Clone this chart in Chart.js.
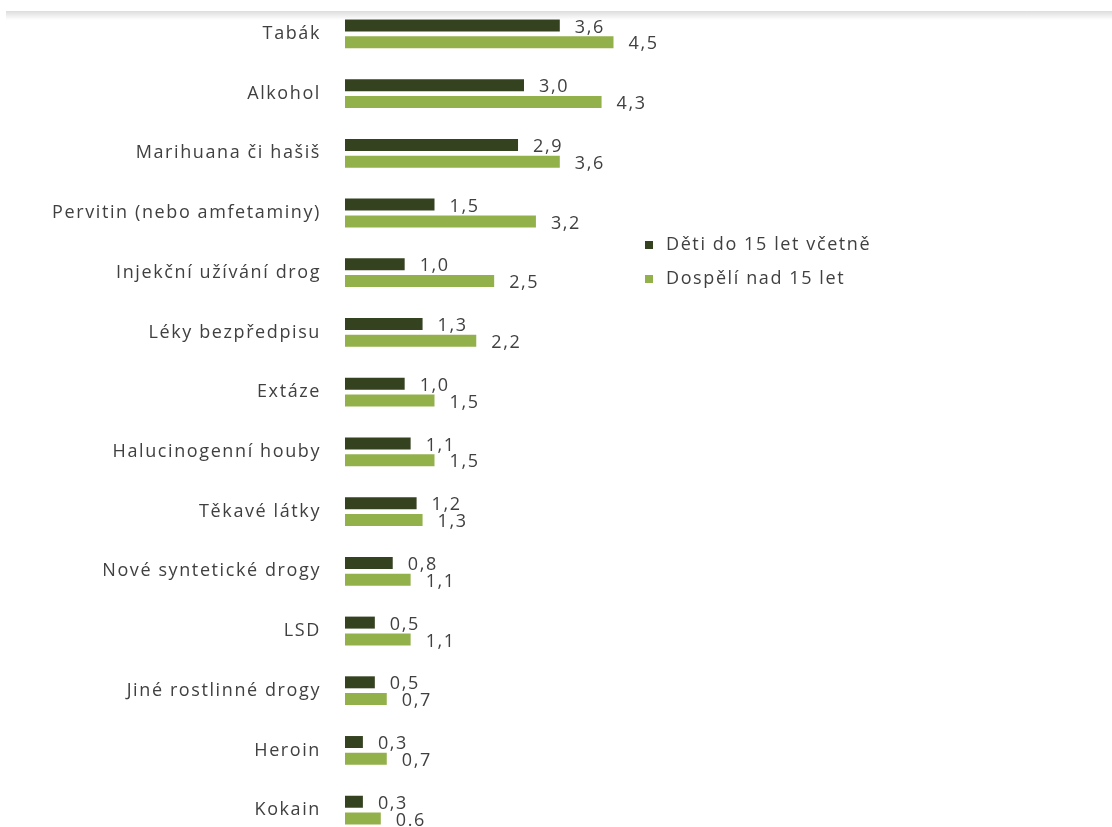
<!DOCTYPE html>
<html lang="cs">
<head>
<meta charset="utf-8">
<title>Užívání návykových látek</title>
<script src="https://cdn.jsdelivr.net/npm/chart.js@4.4.1/dist/chart.umd.min.js"></script>
<style>
  html, body { margin: 0; padding: 0; background: #ffffff; overflow: hidden; }
  #wrap { position: relative; width: 1112px; height: 845px; }
  #topShade {
    position: absolute; left: 6px; right: 0; top: 11px; height: 9px;
    background: linear-gradient(to bottom, rgba(215,215,215,0.85), rgba(255,255,255,0));
    pointer-events: none;
  }
</style>
</head>
<body>
<div id="wrap">
  <canvas id="chart" width="1112" height="845"></canvas>
  <div id="topShade"></div>
</div>
<script>
// Categories (top to bottom)
const categories = [
  'Tabák', 'Alkohol', 'Marihuana či hašiš', 'Pervitin (nebo amfetaminy)',
  'Injekční užívání drog', 'Léky bezpředpisu', 'Extáze', 'Halucinogenní houby',
  'Těkavé látky', 'Nové syntetické drogy', 'LSD', 'Jiné rostlinné drogy',
  'Heroin', 'Kokain'
];

// Series values
const children = [3.6, 3.0, 2.9, 1.5, 1.0, 1.3, 1.0, 1.1, 1.2, 0.8, 0.5, 0.5, 0.3, 0.3];
const adults   = [4.5, 4.3, 3.6, 3.2, 2.5, 2.2, 1.5, 1.5, 1.3, 1.1, 1.1, 0.7, 0.7, 0.6];

const seriesNames = ['Děti do 15 let včetně', 'Dospělí nad 15 let'];

// Value label text, decimal comma
const fmt = v => v.toFixed(1).replace('.', ',');
const childrenText = children.map(fmt);
const adultsText = adults.map(fmt);
adultsText[13] = adults[13].toFixed(1); // printed with a decimal point

const FONT = '"Open Sans", "Noto Sans", sans-serif';
const FONT_SIZE = 18;
const TRACKING = '1.6px';
const TEXT = '#404040';
const DARK = '#344220';
const LIGHT = '#93b14b';

// Wide letter spacing for all text on the canvas
const tracking = {
  id: 'tracking',
  beforeDraw(chart) { chart.ctx.letterSpacing = TRACKING; }
};

// Value labels at the end of each bar
const valueLabels = {
  id: 'valueLabels',
  afterDatasetsDraw(chart) {
    const ctx = chart.ctx;
    const texts = [childrenText, adultsText];
    ctx.save();
    ctx.letterSpacing = TRACKING;
    ctx.font = FONT_SIZE + 'px ' + FONT;
    ctx.fillStyle = TEXT;
    ctx.textAlign = 'left';
    ctx.textBaseline = 'middle';
    chart.data.datasets.forEach((ds, di) => {
      chart.getDatasetMeta(di).data.forEach((bar, i) => {
        ctx.fillText(texts[di][i], bar.x + 15, bar.y + 2);
      });
    });
    ctx.restore();
  }
};

// Legend drawn beside the bars
const sideLegend = {
  id: 'sideLegend',
  afterDraw(chart) {
    const ctx = chart.ctx;
    ctx.save();
    ctx.letterSpacing = TRACKING;
    ctx.font = FONT_SIZE + 'px ' + FONT;
    ctx.textBaseline = 'middle';
    ctx.textAlign = 'left';
    chart.data.datasets.forEach((ds, di) => {
      const cy = 245 + di * 34;
      ctx.fillStyle = ds.backgroundColor;
      ctx.fillRect(645, cy - 4, 8, 8);
      ctx.fillStyle = TEXT;
      ctx.fillText(ds.label, 666, cy);
    });
    ctx.restore();
  }
};

new Chart(document.getElementById('chart'), {
  type: 'bar',
  data: {
    labels: categories,
    datasets: [
      { label: seriesNames[0], data: children, backgroundColor: DARK },
      { label: seriesNames[1], data: adults, backgroundColor: LIGHT }
    ]
  },
  options: {
    indexAxis: 'y',
    responsive: false,
    animation: false,
    layout: { padding: { top: 4, bottom: 5, left: 0, right: 51 } },
    datasets: {
      bar: { categoryPercentage: 0.5626, barPercentage: 0.714, borderWidth: 0 }
    },
    scales: {
      x: { display: false, min: 0, max: 12 },
      y: {
        afterFit(scale) {
          scale.width = 345;
          scale.paddingTop = 0;
          scale.paddingBottom = 0;
        },
        grid: { display: false, drawTicks: false, tickLength: 0 },
        border: { display: false },
        ticks: {
          padding: 24,
          color: TEXT,
          font: { family: FONT, size: FONT_SIZE }
        }
      }
    },
    plugins: {
      legend: { display: false },
      tooltip: { enabled: false }
    }
  },
  plugins: [tracking, valueLabels, sideLegend]
});
</script>
</body>
</html>
